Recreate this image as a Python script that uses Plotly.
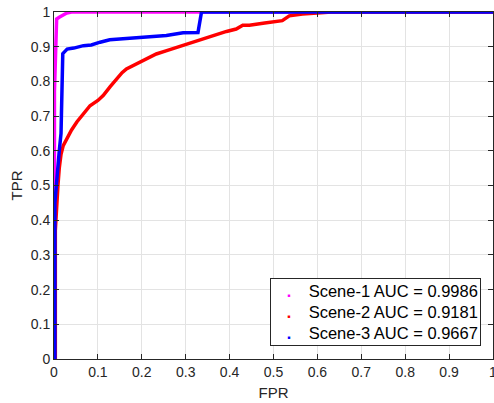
import plotly.graph_objects as go

# Scene-1 (magenta)
s1_fpr = [0, 0.001, 0.001, 0.003, 0.004, 0.006, 0.012, 0.02, 0.029, 0.04, 0.34, 1.0]
s1_tpr = [0, 0.0, 0.77, 0.9, 0.97, 0.98, 0.985, 0.99, 0.997, 1.0, 1.0, 1.0]

# Scene-2 (red)
s2_fpr = [0, 0.003, 0.003, 0.006, 0.009, 0.012, 0.016, 0.021, 0.029, 0.04, 0.052, 0.065,
          0.082, 0.1, 0.112, 0.128, 0.142, 0.155, 0.165, 0.18, 0.195, 0.215, 0.233, 0.255,
          0.279, 0.295, 0.309, 0.33, 0.347, 0.37, 0.393, 0.415, 0.43, 0.445, 0.48, 0.52,
          0.536, 0.566, 0.6, 0.632, 1.0]
s2_tpr = [0, 0, 0.37, 0.45, 0.5, 0.55, 0.59, 0.615, 0.634, 0.66, 0.683, 0.705,
          0.73, 0.745, 0.759, 0.785, 0.807, 0.825, 0.836, 0.845, 0.855, 0.866, 0.879, 0.888,
          0.898, 0.905, 0.912, 0.92, 0.927, 0.935, 0.944, 0.951, 0.962, 0.962, 0.968, 0.975,
          0.989, 0.994, 0.997, 1.0, 1.0]

# Scene-3 (blue)
s3_fpr = [0, 0.002, 0.002, 0.005, 0.008, 0.012, 0.016, 0.018, 0.02, 0.03, 0.045, 0.067,
          0.085, 0.105, 0.127, 0.18, 0.256, 0.294, 0.328, 0.336, 1.0]
s3_tpr = [0, 0, 0.45, 0.5, 0.55, 0.6, 0.65, 0.75, 0.88, 0.893, 0.896, 0.903,
          0.905, 0.913, 0.92, 0.925, 0.932, 0.94, 0.941, 1.0, 1.0]

names = ["Scene-1 AUC = 0.9986", "Scene-2 AUC = 0.9181", "Scene-3 AUC = 0.9667"]
colors = ["#ff00ff", "#ff0000", "#0000ff"]
series = [(s1_fpr, s1_tpr), (s2_fpr, s2_tpr), (s3_fpr, s3_tpr)]

tick_vals = [0, 0.1, 0.2, 0.3, 0.4, 0.5, 0.6, 0.7, 0.8, 0.9, 1]
tick_text = ["0", "0.1", "0.2", "0.3", "0.4", "0.5", "0.6", "0.7", "0.8", "0.9", "1"]

fig = go.Figure()
for (fx, ty), c, n in zip(series, colors, names):
    fig.add_trace(go.Scatter(x=fx, y=ty, mode="lines", name=n,
                             line=dict(color=c, width=3.5),
                             showlegend=False, hoverinfo="skip"))

# legend box drawn as one bordered annotation (tight row spacing like the reference)
NB = "\u00a0"
legend_lines = []
for n, c in zip(names, colors):
    legend_lines.append(
        NB * 3 + f"<span style='color:{c};font-size:5px'>\u25a0</span>" + NB * 4 + n
    )
legend_text = "<br>".join(legend_lines)

font_fam = "Liberation Sans, Arial, sans-serif"
axis_common = dict(
    range=[0, 1], tickvals=tick_vals, ticktext=tick_text, automargin=False,
    ticklabeloverflow="allow",
    showgrid=True, gridcolor="#e3e3e3", gridwidth=1,
    showline=True, linecolor="#262626", linewidth=1, mirror="ticks",
    ticks="inside", ticklen=5, tickcolor="#262626",
    zeroline=False, tickfont=dict(size=14, color="#262626", family=font_fam),
)

fig.update_layout(
    width=494, height=403,
    margin=dict(l=54, r=1, t=12, b=44),
    paper_bgcolor="white", plot_bgcolor="white",
    font=dict(family=font_fam, color="#262626"),
    xaxis=dict(title=dict(text="FPR", font=dict(size=15), standoff=8), **axis_common),
    yaxis=dict(title=dict(text="TPR", font=dict(size=15), standoff=4), **axis_common),
    showlegend=False,
    annotations=[dict(
        text=legend_text, xref="paper", yref="paper",
        x=0.9727, y=0.0375, xanchor="right", yanchor="bottom",
        align="left", showarrow=False,
        font=dict(size=16.5, color="#000000", family=font_fam),
        bgcolor="white", bordercolor="#262626", borderwidth=1, borderpad=2.5,
    )],
)

fig.write_html("out.html", config={"displayModeBar": False},
               post_script="document.body.style.margin='0';")
